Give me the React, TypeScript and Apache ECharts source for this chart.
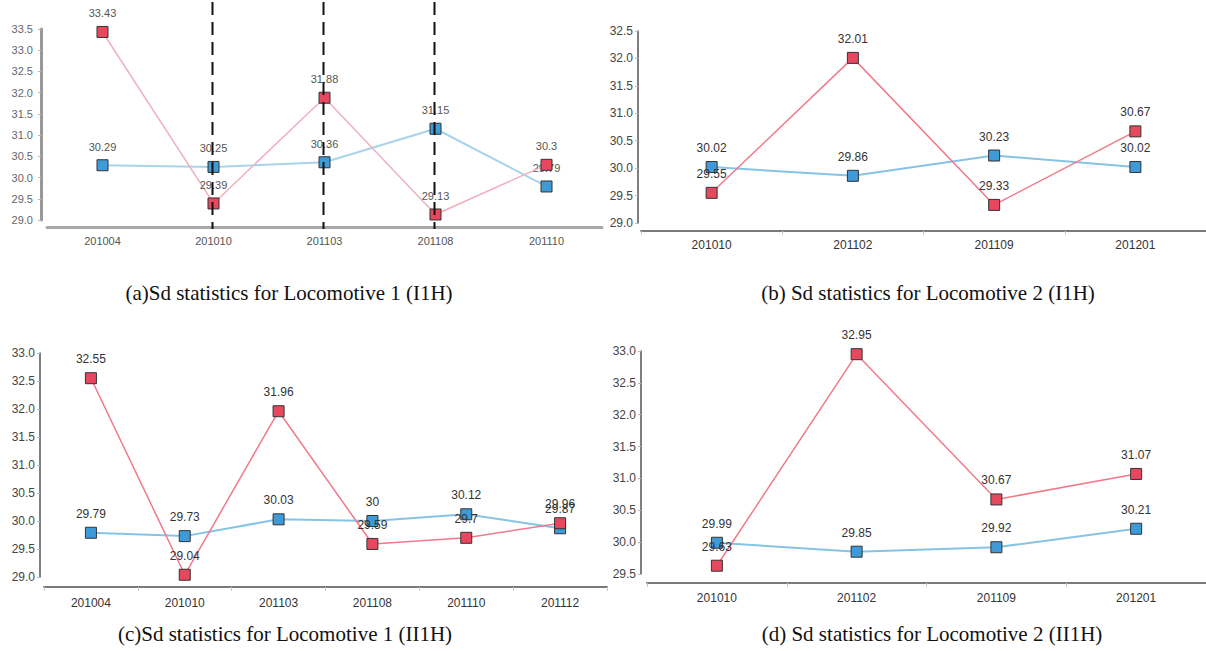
import React, { useEffect, useRef } from 'react';
import * as echarts from 'echarts';

// Panel (a) Locomotive 1 (I1H)
const catsA = ['201004', '201010', '201103', '201108', '201110'];
const blueA = [30.29, 30.25, 30.36, 31.15, 29.79];
const redA = [33.43, 29.39, 31.88, 29.13, 30.3];
const dashedCatsA = ['201010', '201103', '201108'];

// Panel (b) Locomotive 2 (I1H)
const catsB = ['201010', '201102', '201109', '201201'];
const blueB = [30.02, 29.86, 30.23, 30.02];
const redB = [29.55, 32.01, 29.33, 30.67];

// Panel (c) Locomotive 1 (II1H)
const catsC = ['201004', '201010', '201103', '201108', '201110', '201112'];
const blueC = [29.79, 29.73, 30.03, 30, 30.12, 29.87];
const redC = [32.55, 29.04, 31.96, 29.59, 29.7, 29.96];

// Panel (d) Locomotive 2 (II1H)
const catsD = ['201010', '201102', '201109', '201201'];
const blueD = [29.99, 29.85, 29.92, 30.21];
const redD = [29.63, 32.95, 30.67, 31.07];

// Y ranges
const yRangeA = [29.0, 33.5];
const yRangeB = [29.0, 32.5];
const yRangeC = [29.0, 33.0];
const yRangeD = [29.5, 33.0];
const yStep = 0.5;

const captions = [
  '(a)Sd statistics for Locomotive 1 (I1H)',
  '(b) Sd statistics for Locomotive 2 (I1H)',
  '(c)Sd statistics for Locomotive 1 (II1H)',
  '(d) Sd statistics for Locomotive 2 (II1H)',
];

export default function App() {
  const ref = useRef<HTMLDivElement>(null);

  useEffect(() => {
    if (!ref.current) return;
    const chart = echarts.init(ref.current, undefined, { renderer: 'svg' });

    const grids = [
      { left: 47, top: 29, width: 555, height: 191 },
      { left: 641, top: 31, width: 567, height: 192 },
      { left: 44, top: 353, width: 563, height: 224 },
      { left: 647, top: 351, width: 564, height: 223 },
    ];
    const cats = [catsA, catsB, catsC, catsD];
    const ranges = [yRangeA, yRangeB, yRangeC, yRangeD];
    const xOffsets = [7, 8, 10, 9];
    const yOffsets = [6, 3, 4, 6];
    const xMargins = [8, 8, 10, 9];
    const faded = [true, false, false, false];

    const xAxes = cats.map((c, i) => ({
      type: 'category',
      gridIndex: i,
      data: c,
      boundaryGap: true,
      offset: xOffsets[i],
      axisLine: {
        show: true,
        lineStyle: { color: faded[i] ? '#a8a8a8' : '#7a7a7a', width: faded[i] ? 3 : 2 },
      },
      axisTick: {
        show: !faded[i],
        length: 4,
        lineStyle: { color: '#c8c8c8', width: 1 },
      },
      axisLabel: {
        margin: xMargins[i],
        color: faded[i] ? '#555' : '#333',
        fontSize: faded[i] ? 11 : 12,
        fontFamily: 'Liberation Sans, Arial, sans-serif',
      },
      splitLine: { show: false },
    }));

    const yAxes = ranges.map((r, i) => ({
      type: 'value',
      gridIndex: i,
      min: r[0],
      max: r[1],
      interval: yStep,
      offset: yOffsets[i],
      axisLine: {
        show: true,
        lineStyle: { color: faded[i] ? '#999' : '#555', width: faded[i] ? 3 : 1.5 },
      },
      axisTick: { show: true, length: 3, lineStyle: { color: '#bbb' } },
      axisLabel: {
        margin: faded[i] ? 8 : 5,
        color: faded[i] ? '#666' : '#444',
        fontSize: faded[i] ? 11 : 12,
        fontFamily: 'Liberation Sans, Arial, sans-serif',
        formatter: (v: number) => v.toFixed(1),
      },
      splitLine: { show: false },
    }));

    const blues = [blueA, blueB, blueC, blueD];
    const reds = [redA, redB, redC, redD];

    const series: any[] = [];
    for (let i = 0; i < 4; i++) {
      const labelStyle = {
        show: true,
        position: 'top',
        distance: 7,
        color: faded[i] ? '#555' : '#333',
        fontSize: faded[i] ? 11 : 12,
        fontFamily: 'Liberation Sans, Arial, sans-serif',
      };
      series.push({
        type: 'line',
        xAxisIndex: i,
        yAxisIndex: i,
        data: blues[i],
        symbol: 'rect',
        symbolSize: 11,
        lineStyle: { color: faded[i] ? '#a9d3ea' : '#86c4e6', width: 2 },
        itemStyle: { color: '#3f9bd8', borderColor: '#333', borderWidth: 1 },
        label: labelStyle,
        z: 2,
      });
      series.push({
        type: 'line',
        xAxisIndex: i,
        yAxisIndex: i,
        data: reds[i],
        symbol: 'rect',
        symbolSize: 11,
        lineStyle: { color: faded[i] ? '#f0b0bc' : '#ef7a8a', width: 1.5 },
        itemStyle: { color: '#e8485e', borderColor: '#333', borderWidth: 1 },
        label: labelStyle,
        z: 3,
      });
    }

    const capPos = [
      [289, 293],
      [928, 293],
      [285, 634],
      [932, 634],
    ];
    const captionGraphics = captions.map((t, i) => ({
      type: 'text',
      x: capPos[i][0],
      y: capPos[i][1],
      style: {
        text: t,
        fill: '#111',
        font: '21px "Liberation Serif", "Times New Roman", serif',
        textAlign: 'center',
        textVerticalAlign: 'middle',
      },
    }));

    chart.setOption({
      animation: false,
      backgroundColor: '#ffffff',
      grid: grids.map((g) => ({ ...g, containLabel: false })),
      xAxis: xAxes,
      yAxis: yAxes,
      series,
      graphic: captionGraphics,
    });

    const dashed = dashedCatsA.map((c) => {
      const px = chart.convertToPixel({ xAxisIndex: 0 }, c) as number;
      return {
        type: 'line',
        shape: { x1: px - 1, y1: 2, x2: px - 1, y2: 229 },
        style: { stroke: '#111', lineWidth: 2, lineDash: [13, 7] },
        z: 10,
      };
    });
    chart.setOption({ graphic: [...captionGraphics, ...dashed] });

    return () => chart.dispose();
  }, []);

  return (
    <div
      ref={ref}
      style={{ position: 'fixed', left: 0, top: 0, width: 1206, height: 651, background: '#fff' }}
    />
  );
}
